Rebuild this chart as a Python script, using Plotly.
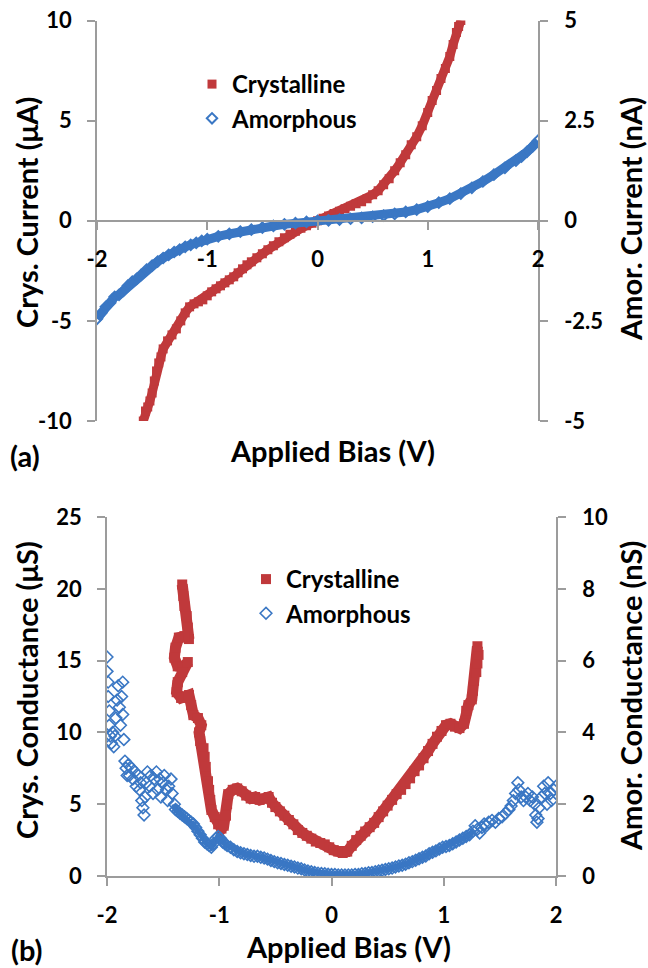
import plotly.graph_objects as go

# ---------------- Panel (a): I-V ----------------
iv_cry_bias = [-1.58, -1.56, -1.54, -1.52, -1.50, -1.48, -1.46, -1.44, -1.42, -1.40,
               -1.36, -1.32, -1.28, -1.24, -1.20, -1.16, -1.12, -1.08, -1.04, -1.00,
               -0.96, -0.92, -0.88, -0.84, -0.80, -0.76, -0.72, -0.68, -0.64, -0.60,
               -0.55, -0.50, -0.45, -0.40, -0.35, -0.30, -0.25, -0.20, -0.15, -0.10,
               -0.05, 0.00, 0.05, 0.10, 0.15, 0.20, 0.25, 0.30, 0.35, 0.40,
               0.45, 0.50, 0.55, 0.60, 0.65, 0.70, 0.75, 0.80, 0.85, 0.90,
               0.95, 1.00, 1.04, 1.08, 1.12, 1.16, 1.20, 1.23, 1.26, 1.28, 1.30]
iv_cry_current = [-10.0, -9.5, -9.3, -9.0, -8.6, -8.0, -7.5, -7.1, -6.8, -6.4,
                  -6.0, -5.7, -5.4, -5.0, -4.6, -4.3, -4.15, -4.05, -3.95, -3.75,
                  -3.55, -3.4, -3.25, -3.1, -2.95, -2.8, -2.6, -2.4, -2.2, -2.05,
                  -1.85, -1.65, -1.45, -1.25, -1.05, -0.85, -0.68, -0.52, -0.38, -0.25,
                  -0.12, 0.0, 0.12, 0.24, 0.36, 0.48, 0.6, 0.72, 0.85, 0.95,
                  1.1, 1.3, 1.5, 1.8, 2.1, 2.5, 2.9, 3.3, 3.8, 4.2,
                  4.75, 5.4, 6.0, 6.5, 7.1, 7.6, 8.2, 8.8, 9.4, 9.7, 10.0]

iv_amo_bias = [-2.00, -1.96, -1.92, -1.88, -1.84, -1.80, -1.76, -1.72, -1.68, -1.64,
               -1.60, -1.55, -1.50, -1.45, -1.40, -1.35, -1.30, -1.25, -1.20, -1.15,
               -1.10, -1.05, -1.00, -0.90, -0.80, -0.70, -0.60, -0.50, -0.40, -0.30,
               -0.20, -0.10, 0.00, 0.10, 0.20, 0.30, 0.40, 0.50, 0.60, 0.70,
               0.80, 0.90, 1.00, 1.10, 1.20, 1.30, 1.40, 1.50, 1.60, 1.70,
               1.80, 1.85, 1.90, 1.95, 2.00]
iv_amo_current = [-2.45, -2.3, -2.15, -2.05, -1.9, -1.85, -1.75, -1.62, -1.52, -1.45,
                  -1.35, -1.22, -1.12, -1.02, -0.93, -0.85, -0.78, -0.72, -0.65, -0.6,
                  -0.55, -0.5, -0.46, -0.39, -0.33, -0.27, -0.22, -0.17, -0.13, -0.09,
                  -0.06, -0.03, 0.0, 0.01, 0.03, 0.05, 0.07, 0.1, 0.13, 0.17,
                  0.22, 0.28, 0.35, 0.45, 0.55, 0.68, 0.82, 0.98, 1.15, 1.32,
                  1.5, 1.6, 1.72, 1.85, 2.0]

# ---------------- Panel (b): conductance ----------------
g_cry_bias = [-1.33, -1.32, -1.31, -1.29, -1.28, -1.27, -1.31, -1.36, -1.39, -1.40,
              -1.37, -1.33, -1.28, -1.33, -1.37, -1.38, -1.34, -1.27, -1.25, -1.23,
              -1.19, -1.16, -1.18, -1.17, -1.14, -1.13, -1.12, -1.10, -1.09, -1.08,
              -1.07, -1.04, -1.01, -0.98, -0.96, -0.94, -0.93, -0.92, -0.88, -0.84,
              -0.80, -0.76, -0.72, -0.68, -0.64, -0.60, -0.56, -0.53, -0.50, -0.46,
              -0.42, -0.38, -0.34, -0.30, -0.26, -0.22, -0.18, -0.14, -0.10, -0.06,
              -0.02, 0.02, 0.06, 0.10, 0.14, 0.18, 0.22, 0.26, 0.30, 0.34,
              0.38, 0.42, 0.46, 0.50, 0.54, 0.58, 0.62, 0.66, 0.70, 0.74,
              0.78, 0.82, 0.86, 0.90, 0.94, 0.98, 1.02, 1.06, 1.10, 1.14,
              1.18, 1.20, 1.22, 1.25, 1.26, 1.27, 1.29, 1.30, 1.31, 1.30]
g_cry_value = [20.3, 19.5, 18.8, 18.1, 17.3, 16.5, 16.7, 16.6, 15.9, 15.2,
               14.6, 14.5, 14.9, 14.2, 13.5, 12.8, 12.4, 12.6, 11.9, 11.2,
               11.0, 10.5, 10.0, 9.4, 8.9, 8.3, 7.6, 6.6, 6.0, 5.3,
               4.6, 4.1, 3.6, 3.3, 3.5, 4.2, 5.0, 5.7, 6.0, 6.1,
               5.9, 5.6, 5.4, 5.5, 5.3, 5.4, 5.5, 5.1, 4.8, 4.5,
               4.2, 3.9, 3.6, 3.2, 3.0, 2.8, 2.6, 2.4, 2.3, 2.2,
               2.0, 1.8, 1.7, 1.6, 1.7, 2.1, 2.5, 2.8, 3.1, 3.4,
               3.7, 4.1, 4.5, 4.9, 5.3, 5.7, 6.0, 6.4, 6.8, 7.3,
               7.7, 8.2, 8.7, 9.2, 9.7, 10.1, 10.5, 10.6, 10.4, 10.3,
               10.6, 11.5, 11.9, 12.3, 12.9, 13.6, 14.2, 14.8, 15.4, 16.0]

g_amo_bias = [-2.00, -2.00, -1.99, -1.99, -1.98, -1.98, -1.97, -1.96, -1.95, -1.94,
              -1.93, -1.92, -1.91, -1.90, -1.89, -1.88, -1.87, -1.86, -1.86, -1.85,
              -1.84, -1.83, -1.82, -1.81, -1.80, -1.78, -1.77, -1.75, -1.74, -1.72,
              -1.71, -1.70, -1.69, -1.68, -1.67, -1.66, -1.65, -1.64, -1.62, -1.61,
              -1.59, -1.58, -1.56, -1.55, -1.53, -1.52, -1.50, -1.49, -1.47, -1.46,
              -1.45, -1.43, -1.42, -1.40, -1.39, -1.37, -1.35, -1.33, -1.31, -1.29,
              -1.27, -1.25, -1.23, -1.21, -1.19, -1.17, -1.15, -1.13, -1.11, -1.09,
              -1.07, -1.05, -1.03, -1.01, -0.99, -0.97, -0.95, -0.93, -0.90, -0.87,
              -0.84, -0.81, -0.78, -0.75, -0.72, -0.69, -0.66, -0.63, -0.60, -0.57,
              -0.54, -0.51, -0.48, -0.45, -0.42, -0.39, -0.36, -0.33, -0.30, -0.27,
              -0.24, -0.21, -0.18, -0.15, -0.12, -0.09, -0.06, -0.03, 0.00, 0.03,
              0.06, 0.09, 0.12, 0.15, 0.18, 0.21, 0.24, 0.27, 0.30, 0.33,
              0.36, 0.39, 0.42, 0.45, 0.48, 0.51, 0.54, 0.57, 0.60, 0.63,
              0.66, 0.69, 0.72, 0.75, 0.78, 0.81, 0.84, 0.87, 0.90, 0.93,
              0.96, 0.99, 1.02, 1.05, 1.08, 1.11, 1.14, 1.17, 1.20, 1.23,
              1.26, 1.28, 1.30, 1.32, 1.34, 1.36, 1.38, 1.40, 1.43, 1.46,
              1.49, 1.52, 1.55, 1.58, 1.60, 1.62, 1.64, 1.66, 1.67, 1.69,
              1.71, 1.73, 1.75, 1.77, 1.79, 1.81, 1.82, 1.83, 1.84, 1.85,
              1.87, 1.89, 1.90, 1.92, 1.93, 1.95, 1.96, 1.98, 2.00]
g_amo_value = [6.1, 5.7, 5.4, 5.0, 4.6, 4.2, 3.9, 3.7, 4.0, 3.6,
               3.9, 4.4, 4.9, 5.3, 4.7, 4.2, 5.0, 5.4, 4.5, 3.8,
               3.2, 3.0, 2.8, 3.1, 2.8, 3.0, 2.7, 2.9, 2.5, 2.8,
               2.4, 2.6, 2.1, 1.9, 1.7, 2.2, 2.6, 2.9, 2.5, 2.8,
               2.3, 2.7, 2.9, 2.4, 2.7, 2.2, 2.6, 2.8, 2.4, 2.1,
               2.5, 2.7, 2.3, 2.0, 1.85, 1.8, 1.75, 1.7, 1.65, 1.6,
               1.55, 1.5, 1.45, 1.35, 1.25, 1.15, 1.05, 0.95, 0.9, 0.85,
               0.8, 0.9, 1.05, 1.1, 1.05, 0.95, 0.9, 0.85, 0.8, 0.73,
               0.68, 0.65, 0.62, 0.6, 0.57, 0.55, 0.55, 0.52, 0.5, 0.47,
               0.43, 0.4, 0.37, 0.35, 0.32, 0.3, 0.27, 0.25, 0.22, 0.2,
               0.17, 0.14, 0.12, 0.1, 0.08, 0.07, 0.06, 0.05, 0.04, 0.04,
               0.03, 0.03, 0.03, 0.03, 0.03, 0.04, 0.04, 0.06, 0.07, 0.09,
               0.1, 0.12, 0.14, 0.16, 0.18, 0.2, 0.22, 0.25, 0.28, 0.3,
               0.33, 0.37, 0.4, 0.44, 0.48, 0.52, 0.56, 0.62, 0.66, 0.7,
               0.75, 0.8, 0.82, 0.85, 0.9, 0.95, 1.0, 1.05, 1.1, 1.15,
               1.25, 1.4, 1.3, 1.2, 1.35, 1.45, 1.4, 1.5, 1.55, 1.5,
               1.6, 1.65, 1.75, 1.85, 1.95, 2.1, 2.3, 2.6, 2.4, 2.2,
               2.1, 2.2, 2.3, 2.1, 2.2, 2.0, 1.7, 1.5, 1.6, 1.9,
               2.2, 2.5, 2.3, 2.0, 2.6, 2.3, 2.1, 2.4, 2.5]

bias_ticks = [-2, -1, 0, 1, 2]
bias_ticktext = ["-2", "-1", "0", "1", "2"]
crys_current_ticks = [-10, -5, 0, 5, 10]
crys_current_ticktext = ["-10", "-5", "0", "5", "10"]
amor_current_ticks = [-5, -2.5, 0, 2.5, 5]
amor_current_ticktext = ["-5", "-2.5", "0", "2.5", "5"]
crys_cond_ticks = [0, 5, 10, 15, 20, 25]
amor_cond_ticks = [0, 2, 4, 6, 8, 10]

RED = "#C0393B"
BLUE = "#3A77C4"
AXIS = "#9C9C9C"
FONT = "Lato"
W, H = 648, 968


def px_x(p):
    return p / W


def px_y(p):
    return 1 - p / H


# dense (band-like) part of the amorphous conductance trace
dense = [(v, g) for v, g in zip(g_amo_bias, g_amo_value) if -1.40 <= v <= 1.26]

fig = go.Figure()

# (a) crystalline
fig.add_trace(go.Scatter(x=iv_cry_bias, y=iv_cry_current, mode="lines",
                         line=dict(color=RED, width=9), showlegend=False,
                         hoverinfo="skip", xaxis="x", yaxis="y"))
fig.add_trace(go.Scatter(x=iv_cry_bias, y=iv_cry_current, mode="markers", name="Crystalline",
                         marker=dict(symbol="square", size=9, color=RED),
                         xaxis="x", yaxis="y", legend="legend"))
# (a) amorphous
fig.add_trace(go.Scatter(x=iv_amo_bias, y=iv_amo_current, mode="lines",
                         line=dict(color=BLUE, width=9), showlegend=False,
                         hoverinfo="skip", xaxis="x", yaxis="y2"))
fig.add_trace(go.Scatter(x=iv_amo_bias, y=iv_amo_current, mode="markers", name="Amorphous",
                         marker=dict(symbol="diamond-open", size=8, color=BLUE, line=dict(width=2)),
                         xaxis="x", yaxis="y2", legend="legend"))

# (b) crystalline
fig.add_trace(go.Scatter(x=g_cry_bias, y=g_cry_value, mode="lines",
                         line=dict(color=RED, width=11), showlegend=False,
                         hoverinfo="skip", xaxis="x2", yaxis="y3"))
fig.add_trace(go.Scatter(x=g_cry_bias, y=g_cry_value, mode="markers", name="Crystalline",
                         marker=dict(symbol="square", size=10, color=RED),
                         xaxis="x2", yaxis="y3", legend="legend2"))
# (b) amorphous
fig.add_trace(go.Scatter(x=[d[0] for d in dense], y=[d[1] for d in dense], mode="lines",
                         line=dict(color=BLUE, width=6), showlegend=False,
                         hoverinfo="skip", xaxis="x2", yaxis="y4"))
fig.add_trace(go.Scatter(x=g_amo_bias, y=g_amo_value, mode="markers", name="Amorphous",
                         marker=dict(symbol="diamond-open", size=9, color=BLUE, line=dict(width=1.6)),
                         xaxis="x2", yaxis="y4", legend="legend2"))

tickfont = dict(family=FONT, size=22, color="black", weight="bold")
axis_common = dict(showline=True, linecolor=AXIS, linewidth=1.5, ticks="outside",
                   tickcolor=AXIS, ticklen=8, tickwidth=1.5, showgrid=False,
                   zeroline=False, tickfont=tickfont, automargin=False,
                   ticklabeloverflow="allow")

a_x0, a_x1 = px_x(97), px_x(538)
a_y0, a_y1 = px_y(421), px_y(20.5)
b_x0, b_x1 = px_x(107), px_x(556)
b_y0, b_y1 = px_y(876), px_y(517)

legend_font = dict(family=FONT, size=24, color="black", weight="bold")

fig.update_layout(
    width=W, height=H,
    margin=dict(l=0, r=0, t=0, b=0, pad=0, autoexpand=False),
    paper_bgcolor="white", plot_bgcolor="rgba(0,0,0,0)",
    font=dict(family=FONT, size=20, color="black", weight="bold"),
    xaxis=dict(domain=[a_x0, a_x1], range=[-2, 2], tickvals=bias_ticks, ticktext=bias_ticktext,
               anchor="free", position=(a_y0 + a_y1) / 2, ticklabelstandoff=11,
               **axis_common),
    yaxis=dict(domain=[a_y0, a_y1], range=[-10, 10], tickvals=crys_current_ticks,
               ticktext=crys_current_ticktext, anchor="x", ticklabelstandoff=11, **axis_common),
    yaxis2=dict(range=[-5, 5], tickvals=amor_current_ticks, ticktext=amor_current_ticktext,
                overlaying="y", side="right", anchor="x", ticklabelstandoff=12, **axis_common),
    xaxis2=dict(domain=[b_x0, b_x1], range=[-2, 2], tickvals=bias_ticks, ticktext=bias_ticktext,
                anchor="y3", ticklabelstandoff=11, **axis_common),
    yaxis3=dict(domain=[b_y0, b_y1], range=[0, 25], tickvals=crys_cond_ticks,
                anchor="x2", ticklabelstandoff=11, **axis_common),
    yaxis4=dict(range=[0, 10], tickvals=amor_cond_ticks, overlaying="y3", side="right",
                anchor="x2", ticklabelstandoff=12, **axis_common),
    legend=dict(x=px_x(192), y=px_y(62), xanchor="left", yanchor="top",
                bgcolor="rgba(0,0,0,0)", font=legend_font, tracegroupgap=0),
    legend2=dict(x=px_x(246), y=px_y(557), xanchor="left", yanchor="top",
                 bgcolor="rgba(0,0,0,0)", font=legend_font, tracegroupgap=0),
)

title_font = dict(family=FONT, size=29, color="black", weight="bold")
annos = [
    dict(text="Crys. Current (μA)", x=px_x(26), y=px_y(213), textangle=-90),
    dict(text="Amor. Current (nA)", x=px_x(630), y=px_y(219), textangle=-90),
    dict(text="Applied Bias (V)", x=px_x(332), y=px_y(451), textangle=0),
    dict(text="(a)", x=px_x(25), y=px_y(455), textangle=0),
    dict(text="Crys. Conductance (μS)", x=px_x(26), y=px_y(690), textangle=-90),
    dict(text="Amor. Conductance (nS)", x=px_x(630), y=px_y(696), textangle=-90),
    dict(text="Applied Bias (V)", x=px_x(349), y=px_y(946), textangle=0),
    dict(text="(b)", x=px_x(27), y=px_y(949), textangle=0),
]
for a in annos:
    fig.add_annotation(xref="paper", yref="paper", showarrow=False,
                       xanchor="center", yanchor="middle", font=title_font, **a)

# remove the default 8px page margin so the 648x968 figure fills the window exactly
fig.write_html("out.html",
               config={"displayModeBar": False},
               post_script="document.body.style.margin='0';document.body.style.overflow='hidden';")
